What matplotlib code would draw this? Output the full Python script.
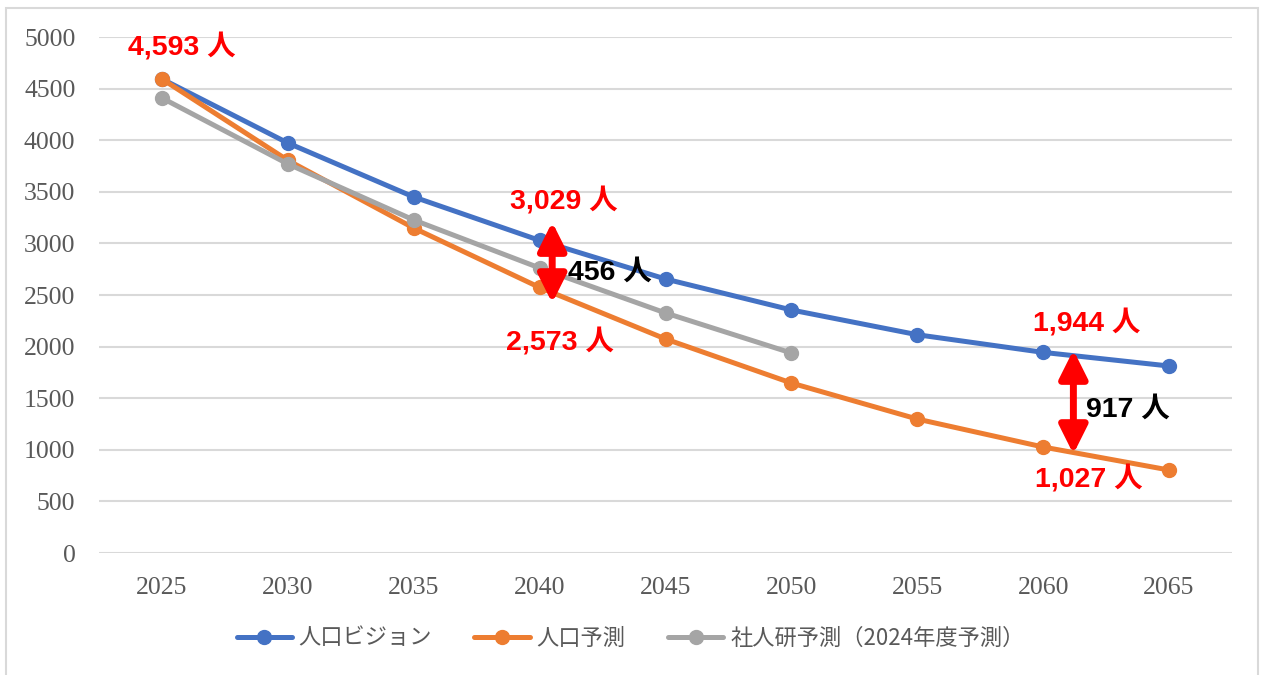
import matplotlib.pyplot as plt
from matplotlib.patches import Rectangle

years = ['2025', '2030', '2035', '2040', '2045', '2050', '2055', '2060', '2065']
vision = [4593, 3973, 3450, 3029, 2655, 2355, 2115, 1944, 1812]
forecast = [4593, 3805, 3149, 2573, 2074, 1647, 1298, 1027, 804]
ipss = [4409, 3770, 3227, 2762, 2326, 1938]
names = ['人口ビジョン', '人口予測', '社人研予測（2024年度予測）']
colors = ['#4472C4', '#ED7D31', '#A5A5A5']

plt.rcParams['font.family'] = ['Liberation Sans', 'Noto Sans CJK JP']

fig = plt.figure(figsize=(12.61, 6.75), dpi=100)
ax = fig.add_axes([99 / 1261, 1 - 553 / 675, 1133 / 1261, 516 / 675])

xs = range(len(years))
for vals, name, c in zip([vision, forecast, ipss], names, colors):
    ax.plot(list(xs)[:len(vals)], vals, color=c, lw=3.6, marker='o', ms=10,
            label=name, solid_capstyle='round')

ax.set_xlim(-0.5, len(years) - 0.5)
ax.set_ylim(0, 5000)
ax.set_yticks(range(0, 5001, 500))
ax.set_xticks(list(xs))
ax.set_xticklabels(years)
ax.grid(axis='y', color='#d9d9d9', lw=1.5)
ax.set_axisbelow(True)
for s in ax.spines.values():
    s.set_visible(False)
ax.tick_params(length=0, labelsize=18.5, labelcolor='#595959')
ax.tick_params(axis='y', pad=17)
ax.tick_params(axis='x', pad=17)
for lab in ax.get_xticklabels() + ax.get_yticklabels():
    lab.set_fontfamily('Liberation Serif')

# value labels
lbl = dict(textcoords='offset pixels', ha='center', va='center',
           fontsize=20.5, fontweight='bold', color='red')
ax.annotate(f'{vision[0]:,} 人', (0, vision[0]), xytext=(20, 32), **lbl)
ax.annotate(f'{vision[3]:,} 人', (3, vision[3]), xytext=(24, 39), **lbl)
ax.annotate(f'{forecast[3]:,} 人', (3, forecast[3]), xytext=(20, -55), **lbl)
ax.annotate(f'{vision[7]:,} 人', (7, vision[7]), xytext=(44, 29), **lbl)
ax.annotate(f'{forecast[7]:,} 人', (7, forecast[7]), xytext=(46, -32), **lbl)

# difference arrows
arr = dict(arrowstyle='<|-|>,head_length=1.7,head_width=0.85', lw=5,
           color='red', shrinkA=0, shrinkB=0)
ax.annotate('', xy=(3.1, 3207), xytext=(3.1, 2422), arrowprops=arr)
ax.annotate('', xy=(7.24, 1967), xytext=(7.24, 959), arrowprops=arr)
ax.text(3.56, 2713, f'{vision[3] - forecast[3]} 人', ha='center', va='center',
        fontsize=20.5, fontweight='bold', color='black')
ax.text(7.67, 1386, f'{vision[7] - forecast[7]} 人', ha='center', va='center',
        fontsize=20.5, fontweight='bold', color='black')

leg = fig.legend(loc='center', bbox_to_anchor=(0.5, 1 - 638 / 675), ncol=3,
                 frameon=False, handlelength=2.5, handletextpad=0.3,
                 columnspacing=1.9,
                 prop={'family': ['Noto Sans CJK JP'], 'size': 16})
for t in leg.get_texts():
    t.set_color('#595959')

fig.patches.append(Rectangle((6 / 1261, -0.01), 1252 / 1261, 1 - 8 / 675 + 0.01,
                             transform=fig.transFigure, fill=False,
                             edgecolor='#d9d9d9', lw=1.5))

fig.savefig('out.png', dpi=100)
